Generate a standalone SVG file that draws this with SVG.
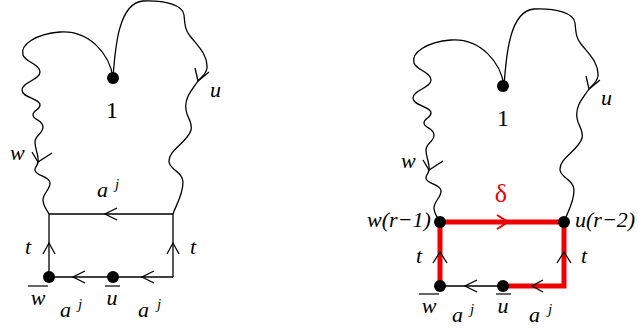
<svg xmlns="http://www.w3.org/2000/svg" width="639" height="328" viewBox="0 0 639 328">
<style>
.c{fill:none;stroke:#000;stroke-width:1.3}
.r{fill:none;stroke:#e00;stroke-width:5;stroke-linecap:square}
.ah{fill:none;stroke:#000;stroke-width:1.3}
.ahr{fill:none;stroke:#e00;stroke-width:2}
.ov{stroke:#000;stroke-width:1.2}
.dot{fill:#000}
text{font-family:'Liberation Serif','Times New Roman',serif}
.t{font-style:italic;font-size:22px;fill:#000}
.n{font-size:24px;fill:#000}
.sup{font-style:italic;font-size:15px;fill:#000}
</style>
<defs>
<path id="lw" d="M113,78 C110,55 90,30 60,32 C35,34 20,45 23,55 C25,62 40,64 40,72 C40,80 22,82 22,90 C22,98 40,98 40,105 C40,110 33,110 33,115 C33,120 43,120 43,127 C43,134 35,135 35,142 C35,150 39,155 38,162 C37,167 35,166 35,170 C35,176 50,176 50,183 C50,190 43,193 43,200 C43,206 47,210 49,214"/>
<path id="ru" d="M113,78 C115,50 118,3 143,1 C165,0 183,5 184,15 C185,25 185,30 190,36 C198,46 208,55 207,68 C206,75 200,78 198,81 C192,90 184,98 186,110 C187,118 193,122 191,130 C188,142 168,150 169,162 C170,170 183,172 183,182 C183,195 176,205 173,214"/>
</defs>
<g id="connectors">
<use href="#lw" class="c"/>
<use href="#ru" class="c"/>
<polyline class="ah" points="32,152 38,162 52,153"/>
<polyline class="ah" points="195,68 198,81 209,72"/>
<line class="c" x1="49" y1="214" x2="173" y2="214"/>
<line class="c" x1="49" y1="214" x2="49" y2="277"/>
<line class="c" x1="173" y1="214" x2="173" y2="277"/>
<line class="c" x1="49" y1="277" x2="173" y2="277"/>
<polyline class="ah" points="117,208 105,214 117,220"/>
<polyline class="ah" points="85,271 73,277 85,283"/>
<polyline class="ah" points="154,271 142,277 154,283"/>
<polyline class="ah" points="43,254 49,243 55,254"/>
<polyline class="ah" points="167,254 173,243 179,254"/>
<g transform="translate(391,8)">
<use href="#lw" class="c"/>
<use href="#ru" class="c"/>
<polyline class="ah" points="32,152 38,162 52,153"/>
<polyline class="ah" points="195,68 198,81 209,72"/>
</g>
<line class="c" x1="440" y1="286" x2="503" y2="286"/>
<polyline class="r" points="440,286 440,222 564,222 564,286 503,286"/>
<polyline class="ahr" points="497,215 508,222 497,229"/>
<polyline class="ah" points="477,280 465,286 477,292"/>
<polyline class="ah" points="543,280 532,286 543,292"/>
<polyline class="ah" points="433,263 440,252 447,263"/>
<polyline class="ah" points="557,263 564,252 571,263"/>
</g>
<g id="node-1-left"><circle class="dot" cx="113" cy="78" r="6"/><text class="n" x="112" y="118" text-anchor="middle">1</text></g>
<g id="node-wbar-left"><circle class="dot" cx="49" cy="277" r="6"/><text class="t" x="38" y="305" text-anchor="middle">w</text><line class="ov" x1="28" y1="286" x2="48" y2="286"/></g>
<g id="node-ubar-left"><circle class="dot" cx="113" cy="277" r="6"/><text class="t" x="112" y="305" text-anchor="middle">u</text><line class="ov" x1="105" y1="286" x2="120" y2="286"/></g>
<g id="labels-left">
<text class="t" x="10" y="160">w</text>
<text class="t" x="210" y="97">u</text>
<text class="t" x="97" y="197">a</text><text class="sup" x="115" y="189">j</text>
<text class="t" x="25" y="254">t</text>
<text class="t" x="190" y="254">t</text>
<text class="t" x="60" y="317">a</text><text class="sup" x="78" y="309">j</text>
<text class="t" x="138" y="317">a</text><text class="sup" x="157" y="309">j</text>
</g>
<g id="node-1-right"><circle class="dot" cx="503" cy="86" r="6"/><text class="n" x="503" y="126" text-anchor="middle">1</text></g>
<g id="node-wr1"><circle class="dot" cx="440" cy="222" r="6"/><text class="t" x="367" y="227">w(r−1)</text></g>
<g id="node-ur2"><circle class="dot" cx="564" cy="222" r="6"/><text class="t" x="575" y="227">u(r−2)</text></g>
<g id="node-wbar-right"><circle class="dot" cx="440" cy="286" r="6"/><text class="t" x="429" y="313" text-anchor="middle">w</text><line class="ov" x1="419" y1="294" x2="439" y2="294"/></g>
<g id="node-ubar-right"><circle class="dot" cx="503" cy="286" r="6"/><text class="t" x="503" y="313" text-anchor="middle">u</text><line class="ov" x1="496" y1="294" x2="511" y2="294"/></g>
<g id="labels-right">
<text class="t" x="401" y="168">w</text>
<text class="t" x="601" y="105">u</text>
<text x="501" y="202" text-anchor="middle" style="font-size:26px;fill:#e00">δ</text>
<text class="t" x="416" y="263">t</text>
<text class="t" x="581" y="263">t</text>
<text class="t" x="452" y="322">a</text><text class="sup" x="470" y="314">j</text>
<text class="t" x="529" y="322">a</text><text class="sup" x="548" y="314">j</text>
</g>
</svg>
